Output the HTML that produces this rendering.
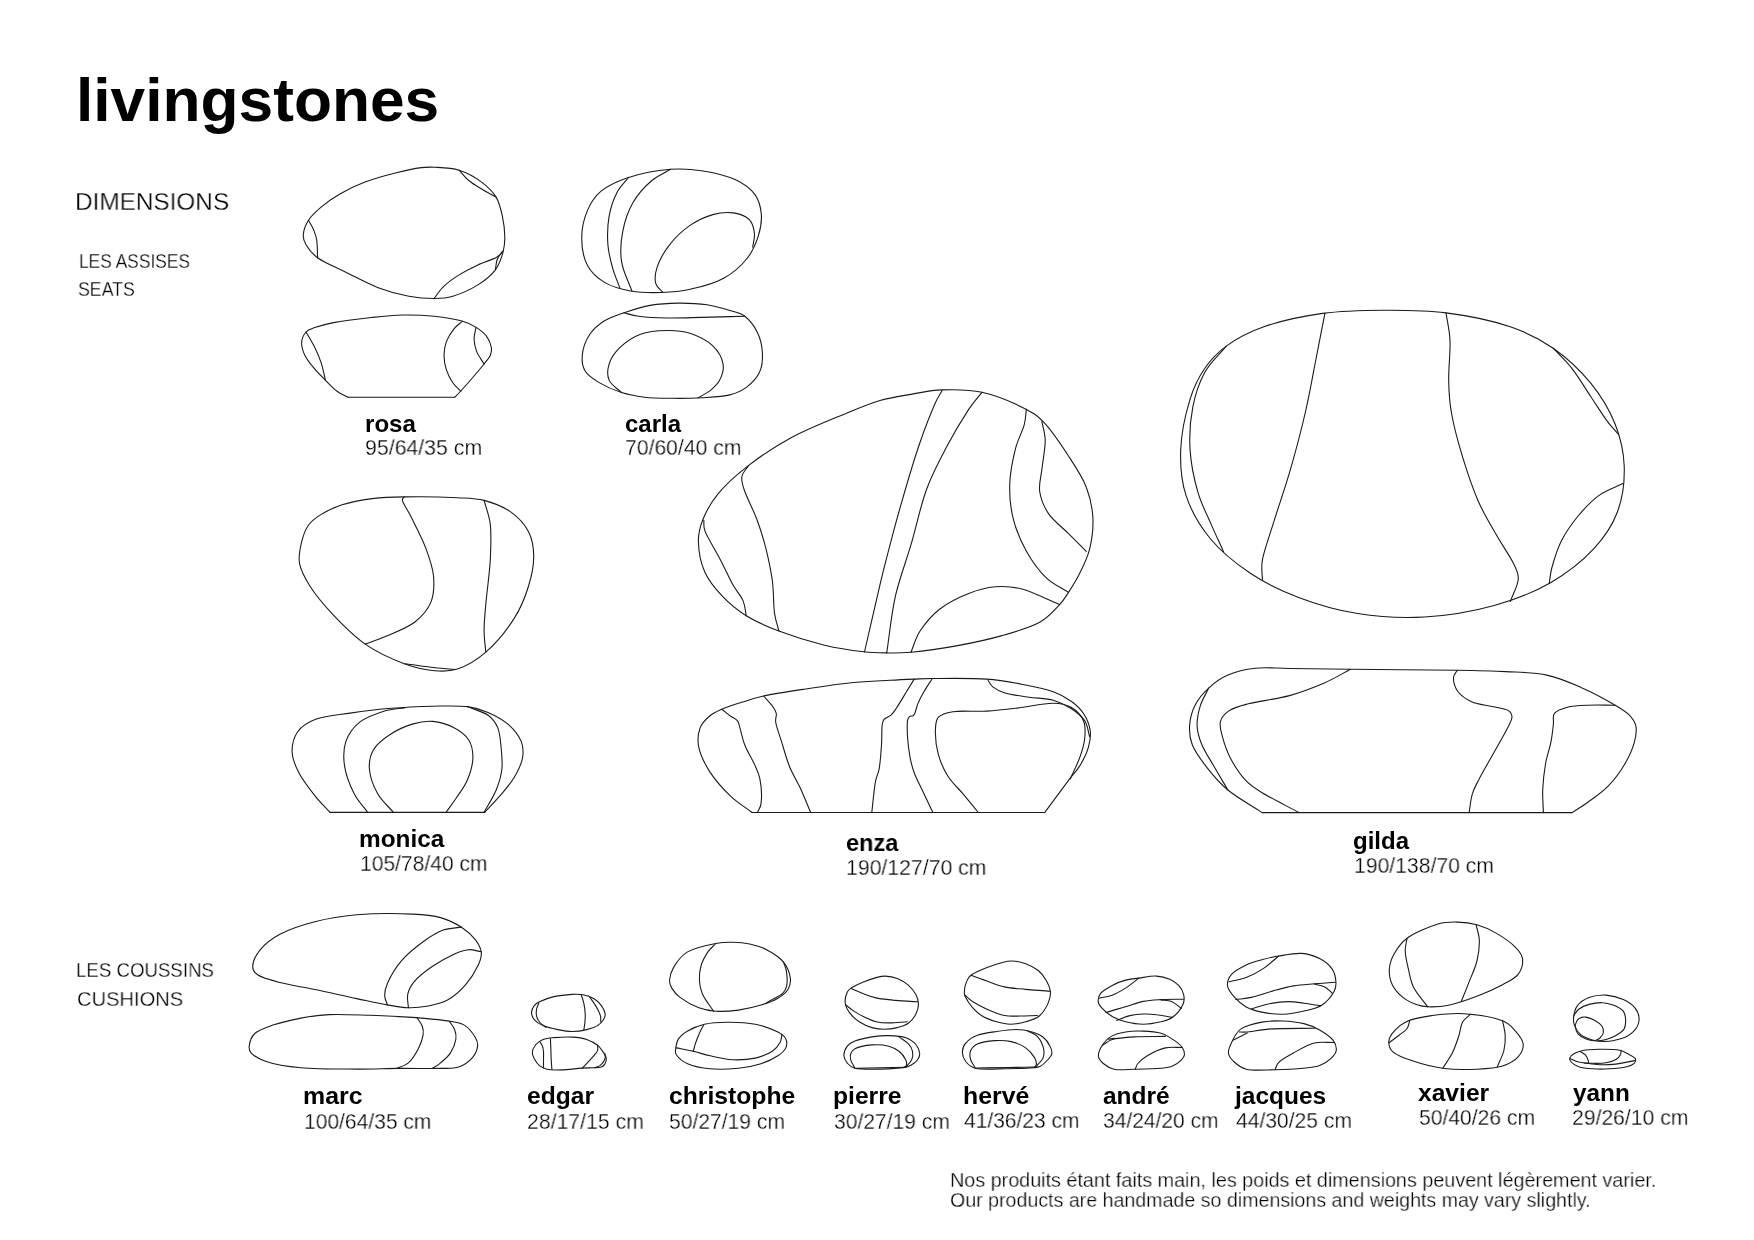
<!DOCTYPE html>
<html><head><meta charset="utf-8">
<style>
html,body{margin:0;padding:0;background:#fff;}
body{width:1754px;height:1240px;position:relative;overflow:hidden;font-family:"Liberation Sans",sans-serif;}
svg{position:absolute;left:0;top:0;}
.t{position:absolute;white-space:nowrap;line-height:1;transform-origin:0 0;will-change:transform;}
.title{font-weight:bold;color:#000;}
.nm{font-weight:bold;color:#000;font-size:24px;}
.lt{color:#222;}
.L{-webkit-text-stroke:0.3px #fff;}
</style></head><body>
<svg width="1754" height="1240" viewBox="0 0 1754 1240" fill="none" stroke="#1a1a1a" stroke-width="1.1" stroke-linejoin="round" stroke-linecap="round">
<path d="M303.3 234.7C303.6 230.5 305.7 224.8 308.5 220.3C311.5 215.6 316.1 211.4 321.1 207.2C326.4 202.6 332.8 198.1 339.9 194.0C347.3 189.7 355.8 185.6 365.0 182.1C374.5 178.4 386.7 175.1 396.3 172.7C405.4 170.4 414.7 168.5 421.4 167.6C427.2 166.9 429.5 166.9 435.2 167.3C441.7 167.6 451.4 167.7 459.1 170.2C466.9 172.6 475.4 177.4 481.6 182.1C487.6 186.5 492.6 191.4 496.1 197.1C499.5 202.7 500.9 209.3 502.3 215.9C503.8 222.7 504.8 231.0 504.8 237.3C504.9 243.0 504.4 247.0 503.0 252.3C501.4 257.9 499.4 264.5 495.4 269.9C491.2 275.5 484.8 280.6 477.9 284.9C470.7 289.4 460.4 294.0 452.8 296.2C445.9 298.2 441.0 298.4 434.0 298.5C426.5 298.5 417.9 297.9 408.9 296.2C399.2 294.4 387.9 291.4 377.5 287.4C367.0 283.4 356.2 277.3 346.2 272.4C336.4 267.5 324.8 262.9 317.9 258.0C312.0 253.7 308.4 248.9 306.0 244.8C303.9 241.2 303.0 238.6 303.3 234.7Z"/>
<path d="M308.5 220.3C310.2 223.5 312.2 226.5 313.6 229.7C314.9 233.0 316.0 235.5 316.7 239.8C317.5 244.6 317.3 251.9 317.6 258.0"/>
<path d="M459.1 170.2C462.4 173.7 465.3 177.7 469.1 180.8C472.9 184.0 477.2 186.3 481.6 189.0C486.2 191.7 491.2 194.4 496.1 197.1"/>
<path d="M434.0 298.5C437.3 294.4 439.9 290.0 444.0 286.2C448.2 282.1 453.5 278.4 459.1 274.9C464.8 271.3 471.6 267.8 477.9 264.9C484.1 261.9 492.5 259.8 496.7 257.3C500.0 255.3 500.7 253.3 502.7 251.3"/>
<path d="M502.7 251.3C500.9 253.9 498.5 256.2 497.3 259.2C496.1 262.2 496.1 265.9 495.4 269.2"/>
<path d="M348.1 397.2C344.5 395.3 341.0 394.2 337.4 391.5C333.5 388.7 329.4 384.2 325.5 380.3C321.5 376.3 317.0 372.0 313.6 367.7C310.2 363.6 306.8 359.4 304.8 355.2C302.9 351.1 301.4 346.5 301.6 342.6C301.9 338.8 303.8 334.5 306.0 332.0C308.2 329.5 310.8 329.0 314.8 327.6C319.6 325.9 325.4 324.1 333.6 322.6C343.4 320.7 359.5 318.8 371.3 317.5C382.4 316.3 392.2 315.2 402.6 315.0C413.1 314.8 423.9 315.2 434.0 316.3C443.9 317.3 455.5 319.2 462.8 321.3C469.1 323.1 472.6 325.0 476.6 327.6C480.5 330.1 484.2 333.0 486.6 336.4C489.1 339.7 490.9 344.4 491.4 347.6C491.9 350.5 491.5 352.6 490.4 355.2C489.2 358.0 487.8 359.4 484.1 364.0C479.1 370.1 465.2 386.2 460.3 391.5C457.0 395.2 456.5 395.3 454.7 397.2"/>
<path d="M348.1 397.2 L454.7 397.2"/>
<path d="M306.0 332.0C309.0 337.2 312.3 342.5 314.8 347.6C317.3 352.7 319.3 357.3 321.1 362.7C322.9 368.2 324.0 374.4 325.5 380.3"/>
<path d="M462.2 321.3C459.5 323.8 456.6 325.7 454.0 328.8C451.3 332.2 448.2 337.0 446.5 341.4C444.9 345.7 444.0 350.4 444.0 355.2C444.0 360.0 445.0 365.6 446.5 370.2C448.0 374.8 450.3 379.2 452.8 382.8C455.2 386.2 458.2 388.6 460.9 391.5"/>
<path d="M476.0 327.6C475.4 331.3 474.0 335.0 474.1 338.9C474.2 342.9 475.0 347.3 476.6 351.4C478.3 355.7 481.6 359.8 484.1 364.0"/>
<path d="M581.7 238.0C581.7 228.9 584.0 218.5 587.4 210.6C590.6 203.0 594.6 196.6 601.1 191.2C608.0 185.5 617.5 181.1 628.5 177.5C640.4 173.6 658.1 170.4 670.6 169.3C682.2 168.4 690.8 169.0 701.4 170.7C712.4 172.4 726.5 175.5 735.6 179.8C744.0 183.7 750.7 188.8 755.0 194.6C759.1 200.3 760.7 207.3 761.3 214.0C761.9 220.9 760.7 228.4 758.4 235.7C756.1 243.2 752.6 251.6 747.0 258.5C741.3 265.7 733.4 272.8 724.2 277.9C714.6 283.2 700.7 286.9 690.0 289.3C679.9 291.6 671.3 292.2 661.5 292.5C651.6 292.8 640.3 292.7 630.7 291.0C621.4 289.3 611.8 286.8 604.5 282.4C597.4 278.2 591.2 272.6 587.4 265.3C583.5 257.9 581.7 247.1 581.7 238.0Z"/>
<path d="M628.5 177.5C624.7 182.5 620.2 186.2 617.0 192.4C613.6 199.0 610.6 207.7 609.1 216.3C607.5 225.2 607.3 236.1 607.9 244.8C608.5 253.1 610.5 260.3 612.5 267.6C614.5 274.8 617.4 281.3 619.9 288.1"/>
<path d="M670.6 169.3C664.2 173.2 657.4 175.7 651.3 181.0C644.8 186.6 637.7 194.4 633.0 202.6C628.2 211.0 624.7 221.3 622.8 231.1C620.8 241.0 620.1 251.9 621.6 261.9C623.1 271.9 628.5 281.3 631.9 291.0"/>
<path d="M662.7 292.1C660.4 289.3 656.8 287.4 655.8 283.6C654.7 279.4 655.0 273.6 657.0 267.6C659.1 260.9 664.1 251.8 669.5 244.8C675.0 237.7 682.7 230.5 690.0 225.4C697.2 220.5 705.4 216.7 712.8 214.6C719.9 212.6 727.2 212.0 733.4 212.9C739.3 213.8 745.8 216.2 749.3 219.7C752.7 223.1 753.9 228.8 754.4 233.4C755.0 237.9 753.3 242.5 752.7 247.1"/>
<path d="M582.3 355.0C582.9 348.7 585.9 340.2 589.7 334.5C593.4 328.9 598.8 324.4 604.5 320.8C610.2 317.2 616.6 315.3 623.9 312.8C631.7 310.2 641.1 307.0 650.1 305.4C659.3 303.8 669.1 303.2 678.6 303.1C688.1 303.0 698.4 303.5 707.1 304.8C715.4 306.1 723.5 308.5 729.9 310.5C735.8 312.4 740.3 312.8 744.8 316.2C749.5 319.9 754.4 326.2 757.3 332.2C760.3 338.3 762.1 346.0 762.4 352.7C762.8 359.3 762.2 366.4 759.6 372.1C757.0 377.8 752.0 383.1 747.0 386.9C742.1 390.7 737.0 393.1 729.9 394.9C722.1 396.9 710.9 397.2 701.4 397.8C691.9 398.3 682.4 398.4 672.9 398.3C663.4 398.2 653.1 398.2 644.4 397.2C636.1 396.2 629.1 395.1 621.6 392.6C613.9 390.2 605.0 386.2 598.8 382.4C593.1 378.9 587.9 375.6 585.1 371.0C582.4 366.4 581.7 360.8 582.3 355.0Z"/>
<path d="M623.9 312.8C628.8 314.0 632.3 315.4 638.7 316.2C646.2 317.2 657.0 317.8 667.2 318.0C677.9 318.2 689.0 317.7 701.4 317.4C714.7 317.1 730.3 316.6 744.8 316.2"/>
<path d="M621.6 392.6C617.4 388.5 611.1 384.9 609.1 380.1C607.1 375.4 607.5 369.3 609.1 364.1C610.7 358.7 614.5 353.0 619.3 348.2C624.5 343.0 632.0 337.4 639.9 334.5C647.9 331.5 658.7 330.6 667.2 330.5C675.4 330.4 682.5 330.9 690.0 333.3C697.7 335.9 707.3 340.6 712.8 345.9C718.1 350.9 722.1 358.3 723.1 364.1C724.1 369.6 721.9 375.7 719.7 380.1C717.6 384.3 714.1 387.4 710.5 390.4C706.9 393.3 702.2 395.3 698.0 397.8"/>
<path d="M299.5 563.4C298.2 556.2 300.1 548.6 301.6 542.1C303.1 535.9 305.1 529.9 308.4 525.2C311.6 520.7 315.5 517.9 320.8 514.6C326.6 511.0 333.9 507.5 342.1 504.8C350.9 502.0 362.0 500.0 372.3 498.6C382.7 497.3 391.2 497.0 404.2 496.9C418.9 496.6 443.6 497.0 457.4 497.7C469.1 498.3 475.3 498.1 484.1 500.4C493.0 502.8 503.2 506.7 510.7 511.9C517.9 517.1 524.6 524.0 528.4 531.5C532.2 538.8 533.7 547.4 533.7 556.3C533.8 565.6 531.6 576.3 528.4 586.5C525.2 597.0 521.0 607.8 514.2 618.4C507.0 629.7 495.7 643.6 485.8 652.1C476.7 660.1 466.4 666.0 457.4 669.0C449.3 671.7 442.9 671.5 434.4 670.7C425.2 669.9 415.2 667.7 404.2 663.7C392.3 659.2 377.0 652.3 365.2 644.1C353.4 636.0 342.5 624.7 333.2 614.9C324.3 605.4 315.9 595.4 310.2 586.5C305.0 578.3 300.9 570.9 299.5 563.4Z"/>
<path d="M404.2 496.9C403.6 498.0 402.0 498.2 402.4 500.4C403.1 503.7 407.8 510.2 411.3 517.3C415.3 525.4 421.8 537.5 425.5 547.4C429.1 557.0 432.6 566.5 433.5 575.8C434.3 584.9 434.0 594.7 430.8 602.4C427.7 610.0 421.9 616.4 414.9 622.0C407.4 627.8 395.0 632.4 386.5 636.1C378.6 639.6 372.3 641.5 365.2 644.1"/>
<path d="M484.1 500.4C486.1 508.4 489.2 515.0 490.3 524.4C491.4 534.6 490.9 547.0 490.3 559.8C489.5 573.5 486.9 591.9 485.8 604.2C484.9 615.0 484.0 622.7 484.1 630.8C484.1 638.6 485.2 645.0 485.8 652.1"/>
<path d="M405.1 663.7C413.7 664.8 422.4 666.2 430.8 667.2C439.2 668.2 447.4 668.7 455.7 669.5"/>
<path d="M330.1 812.4C325.3 807.2 320.6 802.8 315.6 796.6C310.2 789.9 303.0 780.7 299.0 773.1C295.4 766.0 292.4 759.3 292.1 752.4C291.9 745.5 293.8 737.2 297.7 731.7C301.6 726.2 307.6 722.4 315.6 719.3C324.6 715.9 337.8 714.9 350.1 713.1C363.0 711.2 377.7 709.4 391.5 708.3C405.3 707.1 420.0 706.5 432.9 706.2C445.2 706.0 457.8 705.4 467.4 706.6C475.8 707.7 481.3 709.5 488.1 712.4C495.1 715.5 503.2 719.9 508.8 724.8C514.1 729.6 518.9 735.7 521.2 741.4C523.3 746.8 523.6 752.2 522.5 757.9C521.5 764.1 517.9 771.1 514.3 777.3C510.6 783.5 505.4 789.4 500.5 795.2C495.5 801.1 489.9 806.7 484.6 812.4"/>
<path d="M330.1 812.4 L484.6 812.4"/>
<path d="M367.7 812.4C363.2 806.2 358.0 801.2 354.2 793.8C350.2 786.0 345.9 775.1 344.6 766.2C343.3 757.7 343.4 748.8 345.9 741.4C348.5 734.1 353.5 727.1 359.7 722.1C366.2 716.9 376.8 713.5 384.6 711.0C391.9 708.8 398.4 708.7 405.3 707.6"/>
<path d="M467.4 706.6C474.3 709.5 482.9 711.5 488.1 715.2C492.8 718.6 495.5 722.4 497.7 727.6C500.1 733.2 500.5 741.4 501.2 748.3C501.9 755.2 502.6 762.1 501.9 769.0C501.1 775.9 499.2 782.6 496.3 789.7C493.3 797.1 488.1 804.9 483.9 812.4"/>
<path d="M393.5 812.4C388.3 806.2 381.7 801.0 377.7 793.8C373.6 786.5 370.0 776.6 369.4 769.0C368.9 761.9 370.2 755.4 373.5 749.7C377.0 743.8 383.7 738.7 390.1 734.5C396.6 730.2 404.9 726.3 412.2 724.1C419.2 722.0 426.0 720.8 432.9 721.4C439.8 721.9 447.5 724.4 453.6 727.6C459.5 730.7 465.5 734.9 468.7 740.0C471.9 745.0 473.0 751.5 472.9 757.9C472.7 764.8 470.2 773.3 467.4 780.0C464.6 786.6 460.0 792.5 456.3 798.0C452.8 803.2 449.4 807.6 446.0 812.4"/>
<path d="M846.4 413.3C831.2 419.6 808.5 428.4 792.0 437.3C776.0 445.8 761.0 455.9 748.4 465.6C736.5 474.8 725.7 484.4 718.0 493.9C710.8 502.6 706.0 511.7 702.7 520.0C699.7 527.6 698.2 533.5 698.4 541.8C698.6 550.8 700.8 563.1 704.9 572.3C708.9 581.3 715.5 589.0 722.3 596.2C729.2 603.5 737.0 610.1 746.3 615.8C755.8 621.8 766.4 626.3 778.9 631.0C792.3 636.1 810.2 641.7 824.6 645.2C838.4 648.5 853.1 650.5 863.8 651.7C873.2 652.8 878.9 652.8 886.7 652.9C894.6 653.0 900.6 653.2 911.0 652.2C923.4 651.1 942.4 648.4 957.6 645.6C972.7 642.8 988.1 639.6 1002.0 635.6C1015.4 631.8 1029.8 627.8 1039.7 622.3C1048.6 617.3 1054.7 609.8 1059.6 604.6C1063.9 600.0 1065.4 597.2 1068.5 592.4C1072.0 587.0 1076.2 580.5 1079.6 573.5C1083.2 566.2 1087.4 558.1 1089.6 549.1C1091.9 539.7 1093.4 528.4 1092.9 518.1C1092.4 507.7 1090.2 497.2 1086.2 487.0C1082.2 476.5 1075.4 466.5 1068.5 456.0C1061.4 445.1 1051.6 430.6 1044.1 422.7C1037.7 415.9 1035.1 414.0 1026.4 409.4C1015.8 403.9 996.3 395.5 982.0 392.3C968.3 389.2 953.9 389.5 942.1 389.9C931.2 390.2 923.4 392.1 913.3 393.9C902.7 395.7 891.1 397.3 880.0 400.5C868.8 403.8 859.9 407.7 846.4 413.3Z"/>
<path d="M703.8 520.0C704.2 523.6 703.0 525.7 704.9 530.9C707.4 537.7 715.4 550.0 720.1 559.2C724.8 568.2 729.2 578.2 733.2 585.3C736.7 591.6 740.8 595.4 743.0 600.6C745.1 605.6 745.2 610.7 746.3 615.8"/>
<path d="M748.4 465.6C746.3 469.2 742.6 472.5 741.9 476.5C741.2 480.5 742.1 483.5 744.1 489.5C746.5 497.1 753.5 510.1 757.1 520.0C760.7 529.7 763.3 538.3 765.9 548.3C768.4 558.6 770.9 570.1 772.4 581.0C773.8 591.8 773.3 605.0 774.6 613.6C775.6 621.1 777.5 625.2 778.9 631.0"/>
<path d="M942.1 390.5C939.9 394.6 938.4 396.1 935.4 402.7C931.5 411.5 925.2 427.3 919.9 442.7C914.1 459.4 907.4 482.2 902.2 500.3C897.1 517.6 892.7 534.6 888.9 549.1C885.4 562.5 883.6 569.4 880.0 584.6C875.8 602.4 869.7 629.5 864.5 652.0"/>
<path d="M982.0 392.3C977.6 398.0 974.0 401.5 968.7 409.4C962.5 418.8 953.5 433.9 946.5 447.1C939.4 460.5 932.4 473.5 926.6 489.2C920.5 505.8 916.3 526.8 911.0 544.7C905.9 562.2 899.6 577.9 895.5 595.7C891.4 613.9 889.6 633.8 886.7 652.9"/>
<path d="M1026.4 409.4C1025.6 414.6 1025.8 418.8 1024.2 424.9C1022.3 431.8 1017.6 439.9 1015.3 449.3C1012.7 459.6 1010.1 473.2 1009.7 484.8C1009.4 496.1 1010.3 507.1 1013.1 518.1C1015.8 529.3 1020.8 541.3 1026.4 551.3C1031.9 561.2 1039.1 571.0 1046.3 577.9C1053.2 584.5 1061.1 587.6 1068.5 592.4"/>
<path d="M1041.9 421.6C1043.0 427.9 1045.1 433.0 1045.2 440.4C1045.3 448.7 1042.8 460.5 1041.9 469.3C1041.0 477.4 1038.6 484.1 1039.7 491.5C1040.8 498.9 1043.9 506.7 1048.5 513.6C1053.4 520.8 1062.1 527.2 1068.5 533.6C1074.7 539.8 1080.3 545.4 1086.2 551.3"/>
<path d="M911.0 652.2C914.0 645.2 915.4 638.1 919.9 631.2C924.8 623.7 931.9 615.2 939.9 609.0C948.1 602.6 959.3 597.2 968.7 593.5C977.7 589.9 986.4 587.5 995.3 586.8C1004.2 586.1 1011.9 586.4 1021.9 589.0C1033.1 591.9 1047.1 599.4 1059.6 604.6"/>
<path d="M752.1 812.5C744.8 806.9 737.2 802.5 730.3 795.8C723.1 788.9 715.0 779.9 709.7 771.6C704.7 763.7 700.4 754.9 698.8 747.4C697.4 740.5 698.1 733.4 700.0 728.1C701.9 723.0 706.0 719.1 709.7 716.0C713.3 712.9 716.8 711.5 721.8 709.3C727.4 706.9 735.4 704.3 742.4 702.1C749.4 699.8 754.5 698.0 763.6 696.0C774.0 693.7 788.7 691.5 802.9 689.4C817.8 687.1 836.4 684.2 851.3 682.7C865.3 681.3 879.1 680.9 890.0 680.3C899.7 679.7 906.9 679.4 914.2 679.1C920.9 678.8 922.9 678.5 932.3 678.5C944.7 678.4 971.1 677.9 986.8 679.1C1000.9 680.1 1011.8 682.3 1023.1 684.5C1033.9 686.6 1045.0 688.7 1053.3 691.8C1060.8 694.5 1066.3 697.7 1071.5 701.5C1076.3 705.0 1080.4 708.8 1083.5 713.5C1086.7 718.4 1089.4 724.8 1090.2 730.5C1091.0 736.1 1090.0 741.7 1088.4 747.4C1086.7 753.4 1083.4 759.9 1079.9 765.6C1076.5 771.2 1073.0 774.4 1067.8 781.3C1061.7 789.4 1052.5 802.1 1044.8 812.5"/>
<path d="M752.1 812.5 L1044.8 812.5"/>
<path d="M721.8 709.3C724.6 711.5 727.6 714.0 730.3 716.0C732.8 717.8 735.9 718.7 737.5 720.8C739.1 722.8 738.9 724.7 740.0 728.1C741.2 732.2 742.5 739.1 744.8 745.0C747.2 751.2 751.9 758.5 754.5 764.4C756.9 769.7 758.8 772.9 759.9 778.9C761.2 785.5 761.8 797.3 761.1 803.1C760.6 807.7 758.7 809.4 757.5 812.5"/>
<path d="M763.6 696.0C766.6 699.4 770.5 703.2 772.6 706.3C774.5 709.0 775.7 710.9 776.3 713.5C776.8 716.2 775.1 718.2 775.7 722.0C776.3 726.6 778.9 733.2 781.1 740.2C783.5 747.9 786.3 758.6 789.6 766.8C792.8 774.7 797.0 781.0 800.5 788.5C804.0 796.2 807.3 804.5 810.7 812.5"/>
<path d="M914.2 679.1C911.4 683.7 908.7 688.1 905.7 693.0C902.7 698.0 898.6 705.0 896.0 708.7C894.0 711.7 893.2 713.0 891.2 714.8C889.1 716.6 885.4 717.7 883.9 719.6C882.5 721.4 882.5 722.4 882.1 725.6C881.6 729.9 882.0 738.0 881.5 745.0C881.0 752.4 880.2 762.9 879.1 769.2C878.1 774.5 876.6 775.4 875.5 781.3C874.1 788.7 873.0 802.1 871.8 812.5"/>
<path d="M932.3 678.5C929.5 682.9 926.3 687.5 923.9 691.8C921.5 695.9 919.4 700.1 917.8 703.9C916.4 707.4 915.7 711.6 914.8 713.5C914.1 715.0 913.8 715.2 913.0 715.7C912.1 716.3 910.3 715.8 909.4 716.6C908.4 717.4 907.9 718.4 907.5 720.8C907.1 724.1 907.2 730.7 907.5 736.5C907.9 742.7 908.8 750.9 910.0 757.1C911.1 762.9 912.2 767.3 914.2 772.8C916.3 778.6 919.6 784.5 922.7 791.0C925.8 797.7 929.5 805.3 932.9 812.5"/>
<path d="M978.3 812.5C973.1 806.1 967.7 799.5 962.6 793.4C957.6 787.5 952.1 782.8 948.1 776.5C944.0 770.0 940.5 762.3 938.4 754.7C936.3 747.0 935.2 737.0 935.4 730.5C935.5 724.9 935.6 720.3 938.4 717.2C941.3 714.0 946.1 712.8 952.9 711.7C961.2 710.4 976.0 711.8 986.8 711.1C997.3 710.5 1006.2 709.4 1017.0 708.1C1028.3 706.8 1043.9 703.1 1053.3 703.3C1061.3 703.4 1066.4 704.6 1071.5 707.5C1076.5 710.4 1081.3 715.7 1083.5 720.8C1085.7 725.8 1085.3 731.8 1084.8 737.7C1084.2 743.9 1082.3 750.4 1079.9 757.1C1077.5 764.1 1073.5 771.6 1070.2 778.9"/>
<path d="M988.0 680.3C989.6 682.5 990.3 684.9 992.8 686.9C995.7 689.2 999.5 691.3 1004.9 693.0C1011.2 694.9 1021.0 696.0 1029.1 697.2C1037.2 698.4 1046.1 698.2 1053.3 700.2C1060.1 702.2 1066.2 705.2 1071.5 708.7C1076.6 712.1 1081.7 716.1 1084.8 720.8C1087.7 725.4 1088.0 731.3 1089.6 736.5"/>
<path d="M1180.7 450.1C1181.3 433.8 1185.7 413.2 1190.1 399.1C1194.0 386.5 1198.7 377.2 1204.8 368.3C1210.8 359.6 1217.0 352.8 1226.3 346.1C1236.3 338.8 1248.7 332.1 1263.8 326.8C1280.3 321.0 1302.7 316.2 1322.7 313.4C1342.9 310.6 1363.8 310.3 1384.4 310.2C1404.9 310.1 1425.2 310.1 1446.0 312.9C1467.2 315.6 1492.0 320.5 1510.3 326.8C1527.2 332.6 1539.9 339.0 1553.2 348.2C1566.7 357.7 1580.4 370.4 1590.7 383.1C1600.8 395.5 1609.2 409.3 1614.8 423.3C1620.3 437.0 1623.7 451.5 1624.2 466.1C1624.7 481.0 1622.7 497.8 1617.5 511.7C1612.4 525.5 1604.1 537.6 1593.4 549.2C1582.1 561.4 1566.7 573.4 1550.5 582.7C1533.8 592.3 1514.8 599.8 1494.2 605.5C1472.9 611.4 1447.5 615.7 1424.6 617.0C1401.9 618.3 1378.8 616.9 1357.6 613.5C1336.9 610.2 1316.7 604.3 1298.6 597.4C1281.1 590.8 1265.1 583.2 1250.4 573.3C1235.7 563.5 1221.0 551.6 1210.2 538.5C1199.6 525.6 1191.0 510.5 1186.1 495.6C1181.3 481.0 1180.1 465.9 1180.7 450.1Z"/>
<path d="M1226.3 346.1C1219.1 354.8 1210.4 362.3 1204.8 372.3C1199.2 382.6 1195.2 394.5 1192.8 407.2C1190.2 420.3 1189.2 435.8 1190.1 450.1C1191.0 464.4 1194.4 480.2 1198.1 492.9C1201.7 505.0 1207.2 515.1 1211.5 525.1C1215.7 534.7 1219.6 542.9 1223.6 551.9"/>
<path d="M1324.9 313.4C1321.9 328.6 1319.2 342.8 1316.0 359.0C1312.7 375.8 1309.5 394.4 1305.3 412.5C1301.1 431.0 1295.8 450.8 1290.6 468.8C1285.5 486.5 1279.3 504.2 1274.5 519.7C1270.0 534.4 1264.3 549.4 1262.4 559.9C1260.9 568.6 1262.4 573.3 1262.4 580.0"/>
<path d="M1446.0 312.9C1447.3 322.0 1449.5 329.6 1450.0 340.2C1450.6 351.8 1448.4 368.1 1448.7 380.4C1448.9 392.1 1449.3 400.6 1451.4 412.5C1453.6 425.4 1457.7 440.8 1462.1 455.4C1466.6 470.3 1472.2 487.3 1478.2 501.0C1483.8 514.0 1490.9 525.3 1496.9 535.8C1502.5 545.7 1509.4 555.1 1513.0 562.6C1516.1 569.0 1518.6 572.6 1518.3 578.7C1518.1 585.4 1513.0 593.9 1510.3 601.5"/>
<path d="M1553.2 348.2C1559.4 354.9 1565.8 360.6 1571.9 368.3C1578.4 376.5 1584.8 387.6 1590.7 396.5C1596.4 405.0 1602.0 414.1 1606.8 420.6C1611.0 426.3 1614.3 429.5 1618.0 434.0"/>
<path d="M1622.9 483.6C1614.8 487.6 1606.2 490.2 1598.7 495.6C1591.0 501.2 1583.6 509.4 1577.3 517.0C1571.1 524.6 1565.5 532.7 1561.2 541.2C1557.0 549.6 1553.8 560.6 1551.8 568.0C1550.1 574.3 1550.1 578.3 1549.2 583.5"/>
<path d="M1262.1 812.6C1250.7 805.0 1237.2 797.7 1227.9 790.0C1219.3 782.9 1213.3 775.7 1207.4 768.1C1201.5 760.6 1195.2 752.2 1192.3 744.8C1189.6 738.1 1189.2 732.2 1189.6 725.7C1190.0 719.0 1191.9 711.4 1195.1 705.2C1198.2 698.9 1203.3 693.0 1208.7 688.1C1214.2 683.0 1220.4 678.3 1227.9 675.1C1235.8 671.6 1245.3 669.3 1255.3 668.2C1265.7 667.0 1275.1 668.3 1289.5 668.5C1306.1 668.7 1325.8 669.0 1351.0 669.3C1380.0 669.6 1429.7 669.8 1456.5 670.3C1478.7 670.6 1490.4 670.8 1505.8 671.6C1520.5 672.4 1534.1 672.3 1546.8 675.1C1559.1 677.7 1569.7 682.4 1581.0 687.4C1592.5 692.4 1607.0 700.3 1615.2 705.2C1621.9 709.1 1625.5 711.2 1628.9 714.7C1632.2 718.1 1634.8 721.3 1635.8 725.7C1636.8 730.3 1636.0 736.1 1634.4 742.1C1632.6 748.7 1629.0 756.8 1624.8 764.0C1620.5 771.4 1614.6 779.5 1608.4 785.9C1602.3 792.2 1594.1 797.7 1587.9 802.3C1582.1 806.5 1577.4 809.1 1572.1 812.6"/>
<path d="M1262.1 812.6 L1572.1 812.6"/>
<path d="M1208.7 688.1C1206.0 693.8 1202.5 699.0 1200.5 705.2C1198.5 711.5 1196.9 719.0 1197.1 725.7C1197.3 732.2 1199.2 738.2 1201.9 744.8C1204.8 751.9 1209.9 759.3 1214.2 766.7C1218.6 774.3 1223.3 782.2 1227.9 790.0"/>
<path d="M1350.4 669.3C1341.5 674.0 1333.5 679.0 1323.7 683.3C1313.3 687.8 1301.8 692.2 1289.5 695.6C1276.7 699.1 1258.8 701.1 1248.4 703.8C1239.7 706.1 1234.0 707.4 1229.3 710.6C1224.9 713.5 1221.5 717.3 1220.4 721.6C1219.2 725.9 1220.9 730.9 1222.4 736.6C1224.1 743.0 1226.8 751.3 1230.6 758.5C1234.5 765.9 1240.2 774.6 1245.7 780.4C1250.8 785.8 1254.4 788.0 1262.1 792.7C1271.3 798.4 1286.7 806.0 1299.0 812.6"/>
<path d="M1457.2 670.3C1456.0 672.8 1453.6 674.6 1453.5 677.8C1453.4 681.4 1455.0 687.5 1457.9 691.5C1460.9 695.6 1466.1 699.2 1471.6 701.7C1477.4 704.4 1485.8 705.0 1492.1 706.5C1498.1 708.0 1505.3 708.5 1508.5 710.6C1511.2 712.4 1512.1 714.5 1511.9 717.5C1511.7 721.0 1508.7 725.5 1505.8 731.2C1502.4 737.8 1496.7 747.6 1492.1 755.8C1487.5 764.0 1481.8 773.7 1478.4 780.4C1475.5 786.1 1473.8 788.9 1472.3 794.1C1470.6 799.6 1470.2 806.4 1469.1 812.6"/>
<path d="M1543.4 812.6C1543.2 805.0 1542.4 797.9 1542.7 790.0C1543.1 781.8 1544.1 772.1 1545.5 764.0C1546.8 756.2 1549.6 748.9 1550.9 742.1C1552.2 735.7 1552.8 729.3 1553.4 724.3C1553.9 719.9 1552.2 716.2 1554.4 713.4C1556.6 710.4 1562.1 708.6 1567.4 707.2C1573.1 705.7 1580.2 705.5 1587.9 705.2C1596.1 704.8 1606.1 705.2 1615.2 705.2"/>
<path d="M252.7 966.5C252.8 962.1 256.1 954.9 260.4 949.7C264.9 944.1 271.5 938.8 279.9 934.3C289.2 929.4 302.3 925.0 314.8 921.8C327.8 918.4 341.1 916.1 356.7 914.8C373.5 913.4 398.1 913.4 412.6 914.1C424.8 914.6 432.3 915.2 440.6 917.6C448.5 919.8 455.6 923.5 461.5 927.3C467.1 931.0 472.1 935.6 475.5 939.9C478.6 944.0 480.9 948.3 481.3 952.5C481.8 956.6 480.5 960.2 478.3 965.1C475.7 970.7 470.8 978.8 465.7 984.6C460.6 990.5 454.1 996.4 447.5 1000.0C441.1 1003.5 433.2 1005.0 426.6 1006.3C420.2 1007.5 414.8 1007.9 408.4 1007.7C401.8 1007.5 395.6 1006.3 387.5 1004.9C378.6 1003.3 368.3 1001.0 356.7 998.6C344.3 996.0 327.9 992.2 314.8 989.5C302.4 986.9 289.8 985.1 279.9 982.5C271.0 980.2 262.0 977.9 257.6 974.8C254.0 972.4 252.6 970.2 252.7 966.5Z"/>
<path d="M461.5 927.1C455.5 928.1 449.5 927.9 443.3 930.1C436.9 932.5 430.5 936.5 423.8 941.3C416.6 946.5 407.5 953.8 401.4 960.9C395.5 967.8 390.2 977.1 387.5 983.2C385.2 988.3 384.6 992.1 384.7 995.8C384.7 999.2 386.5 1001.8 387.5 1004.9"/>
<path d="M481.3 951.8C477.1 951.1 472.9 949.4 468.5 949.7C464.0 950.0 460.0 951.4 454.5 953.9C448.2 956.7 439.0 961.8 432.2 966.5C425.5 971.1 418.1 976.9 414.0 981.8C410.4 986.2 408.6 990.1 407.7 994.4C406.8 998.7 408.2 1003.2 408.4 1007.7"/>
<path d="M249.2 1046.1C249.6 1042.7 251.2 1036.9 254.8 1033.5C258.7 1029.8 265.7 1027.6 272.9 1025.1C280.8 1022.4 291.5 1019.9 300.9 1018.1C310.2 1016.4 317.9 1015.2 328.8 1014.6C340.8 1014.1 356.7 1014.9 370.7 1015.3C384.7 1015.8 399.6 1016.5 412.6 1017.4C425.1 1018.4 438.6 1019.5 447.5 1020.9C455.0 1022.1 459.6 1022.3 464.3 1025.1C468.9 1027.9 473.3 1034.0 475.5 1037.7C477.3 1040.8 477.9 1043.0 477.6 1046.1C477.2 1049.4 475.6 1053.9 472.7 1057.3C469.5 1060.9 464.0 1065.2 458.7 1067.0C453.3 1068.9 449.0 1068.2 440.6 1068.4C430.2 1068.7 412.6 1068.3 398.6 1068.4C384.7 1068.5 372.3 1069.2 356.7 1069.1C340.0 1069.0 316.5 1069.2 300.9 1067.7C286.9 1066.4 274.4 1064.2 266.0 1061.4C258.9 1059.1 254.0 1055.9 251.3 1053.1C249.1 1050.8 248.8 1049.0 249.2 1046.1Z"/>
<path d="M416.8 1017.4C418.7 1020.5 421.4 1023.5 422.4 1026.5C423.4 1029.3 423.6 1031.5 423.1 1034.9C422.5 1038.8 420.6 1044.3 418.2 1048.9C415.7 1053.6 412.2 1059.6 408.4 1062.8C404.9 1065.9 400.5 1066.6 396.6 1068.4"/>
<path d="M449.6 1021.6C451.3 1024.2 453.5 1026.4 454.5 1029.3C455.6 1032.2 456.5 1035.4 455.9 1039.1C455.3 1043.2 452.9 1049.1 450.3 1053.1C447.8 1057.0 443.7 1060.2 440.6 1062.8C437.7 1065.3 435.0 1066.6 432.2 1068.4"/>
<path d="M531.5 1012.6C531.5 1010.2 533.0 1007.2 534.4 1005.3C535.8 1003.6 536.9 1003.0 539.5 1001.7C542.8 1000.1 548.7 997.8 554.0 996.6C559.6 995.4 567.2 994.7 572.2 994.4C576.6 994.2 579.5 994.1 583.1 994.8C586.7 995.5 590.9 997.0 594.0 998.8C596.9 1000.5 599.3 1002.8 601.2 1005.3C603.1 1007.9 604.9 1011.5 605.2 1014.0C605.4 1016.3 604.6 1018.0 603.4 1019.8C602.1 1021.9 600.2 1024.1 597.6 1025.6C594.7 1027.4 590.8 1028.7 586.7 1029.6C582.4 1030.7 577.0 1031.5 572.2 1031.5C567.3 1031.5 562.5 1030.6 557.7 1029.6C552.8 1028.7 547.1 1027.4 543.1 1025.6C539.5 1024.1 536.4 1022.1 534.4 1019.8C532.6 1017.7 531.5 1015.0 531.5 1012.6Z"/>
<path d="M538.8 1003.1C538.1 1005.1 537.0 1006.8 536.6 1009.0C536.2 1011.2 536.1 1014.0 536.6 1016.2C537.1 1018.4 538.0 1020.2 539.5 1022.0C541.1 1024.0 543.9 1025.6 546.0 1027.5"/>
<path d="M581.2 994.8C582.1 997.6 583.1 1000.1 583.8 1003.1C584.5 1006.4 585.1 1010.7 585.2 1014.0C585.4 1017.2 585.1 1020.0 584.9 1022.7C584.6 1025.3 584.2 1027.6 583.8 1030.0"/>
<path d="M589.6 997.0C591.0 999.0 592.5 1000.9 594.0 1003.1C595.4 1005.4 597.2 1008.2 598.3 1010.4C599.3 1012.5 600.1 1014.3 600.5 1016.2C600.9 1018.1 600.7 1020.1 600.8 1022.0"/>
<path d="M532.3 1052.5C532.4 1050.0 534.1 1046.7 535.9 1044.5C537.7 1042.3 540.2 1040.6 543.1 1039.4C546.2 1038.2 549.6 1038.0 554.0 1037.6C559.1 1037.2 566.6 1036.8 572.2 1037.1C577.5 1037.4 582.4 1038.0 586.7 1039.4C590.8 1040.8 594.8 1043.0 597.6 1045.2C600.2 1047.4 601.9 1050.2 603.4 1052.5C604.7 1054.6 606.1 1056.4 606.3 1058.3C606.5 1060.2 605.7 1062.6 604.8 1064.1C604.0 1065.5 602.9 1066.4 601.2 1067.0C599.4 1067.7 596.9 1067.6 594.0 1067.7C590.6 1067.9 586.6 1067.8 581.6 1068.1C576.0 1068.5 567.3 1069.8 561.3 1069.9C555.8 1070.1 550.5 1070.1 546.8 1069.2C543.5 1068.4 541.6 1067.3 539.5 1065.6C537.5 1063.9 535.7 1061.3 534.4 1059.0C533.3 1056.9 532.1 1054.8 532.3 1052.5Z"/>
<path d="M540.2 1042.3C541.0 1043.5 541.9 1044.5 542.4 1046.0C543.0 1047.6 543.3 1049.5 543.5 1051.8C543.7 1054.3 543.5 1057.8 543.5 1060.5C543.5 1063.1 543.5 1065.3 543.5 1067.7"/>
<path d="M550.4 1038.7C550.5 1041.4 550.6 1043.7 550.8 1046.7C550.9 1049.9 551.0 1053.9 551.1 1057.6C551.3 1061.4 551.6 1065.3 551.9 1069.2"/>
<path d="M597.6 1045.2C597.6 1046.9 598.1 1048.8 597.6 1050.3C597.1 1051.9 596.0 1053.0 594.7 1054.7C593.2 1056.6 590.9 1059.0 588.9 1061.2C586.8 1063.5 584.5 1065.8 582.3 1068.1"/>
<path d="M604.8 1053.2C605.0 1054.7 605.4 1056.1 605.2 1057.6C605.0 1059.0 604.3 1060.6 603.4 1061.9C602.5 1063.3 601.2 1064.6 599.8 1065.6C598.3 1066.5 596.4 1067.0 594.7 1067.7"/>
<path d="M669.5 980.2C669.8 976.4 671.3 971.1 674.0 966.6C677.0 961.7 681.2 955.7 687.6 951.9C694.7 947.8 708.0 945.0 715.8 943.5C722.6 942.1 727.1 942.2 732.7 942.3C738.4 942.4 744.1 942.8 749.7 944.0C755.4 945.3 761.1 946.8 766.6 949.7C772.4 952.7 779.6 957.2 783.5 962.1C787.3 966.7 789.7 973.2 790.3 977.9C790.9 982.1 790.0 985.9 788.1 989.2C786.0 992.7 782.2 995.7 777.9 998.2C773.3 1001.0 767.3 1003.1 761.0 1005.0C754.2 1007.1 745.9 1009.0 738.4 1010.1C730.9 1011.1 722.6 1011.7 715.8 1011.2C709.5 1010.8 704.7 1010.0 698.9 1007.8C692.7 1005.5 684.3 1000.6 679.7 997.1C675.7 994.1 673.5 991.0 671.8 988.1C670.2 985.4 669.3 983.4 669.5 980.2Z"/>
<path d="M715.8 943.5C713.2 946.3 710.3 948.4 707.9 951.9C705.4 955.7 702.5 960.8 701.1 965.5C699.7 970.2 699.2 975.4 699.4 980.2C699.6 984.8 700.2 988.8 702.3 993.7C704.6 999.1 709.8 1005.4 713.5 1011.2"/>
<path d="M783.5 962.1C784.5 965.1 785.8 967.5 786.4 971.1C787.0 975.2 787.5 981.9 786.7 985.8C786.0 989.2 784.7 991.5 782.4 993.7C780.0 996.1 775.0 997.8 772.3 999.4C769.9 1000.7 768.5 1001.6 766.6 1002.7"/>
<path d="M675.7 1049.0C676.0 1046.3 676.6 1041.8 678.5 1038.9C680.5 1035.8 683.6 1033.3 687.6 1031.0C692.0 1028.4 698.1 1025.7 704.5 1024.2C711.2 1022.6 718.9 1022.2 727.1 1022.2C735.8 1022.1 746.7 1022.5 755.3 1024.2C763.6 1025.9 772.7 1029.4 777.9 1032.1C782.1 1034.3 784.5 1036.2 785.8 1038.9C787.1 1041.5 787.0 1045.1 785.8 1047.9C784.5 1050.8 781.6 1053.3 777.9 1055.8C773.7 1058.6 767.3 1061.7 761.0 1063.7C754.3 1065.9 746.6 1067.4 738.4 1068.2C729.7 1069.1 718.8 1069.6 710.2 1068.8C701.9 1068.0 693.4 1066.3 687.6 1063.7C682.4 1061.4 678.1 1057.3 676.3 1054.7C674.9 1052.6 675.5 1051.4 675.7 1049.0Z"/>
<path d="M703.4 1025.3C701.9 1028.3 700.2 1031.3 698.9 1034.4C697.6 1037.3 696.4 1040.5 695.5 1043.4C694.6 1046.1 694.0 1048.7 693.2 1051.3"/>
<path d="M676.3 1047.9C681.9 1049.0 687.6 1050.0 693.2 1051.3C698.9 1052.6 703.8 1054.4 710.2 1055.8C716.9 1057.3 725.2 1059.4 732.7 1059.8C740.3 1060.1 748.6 1059.6 755.3 1058.1C761.7 1056.6 768.0 1054.1 772.3 1051.3C776.1 1048.7 778.6 1045.2 780.2 1042.3C781.6 1039.6 781.3 1037.0 781.9 1034.4"/>
<path d="M845.2 1003.0C844.8 999.5 846.1 994.6 847.3 992.0C848.4 989.8 849.3 989.3 851.5 987.8C854.3 985.9 859.3 983.5 863.4 981.9C867.5 980.2 872.3 978.6 876.1 977.6C879.6 976.7 882.0 976.0 885.4 976.1C889.0 976.2 893.5 977.0 897.3 978.5C901.1 980.0 905.2 982.5 908.3 985.2C911.3 987.9 914.2 991.4 915.9 994.6C917.5 997.6 918.4 1000.7 918.4 1003.9C918.5 1007.1 917.5 1010.8 915.9 1014.0C914.2 1017.3 911.4 1021.1 908.3 1023.3C905.2 1025.6 901.2 1026.6 897.3 1027.6C893.3 1028.6 888.8 1029.3 884.6 1029.3C880.3 1029.3 876.1 1028.8 871.9 1027.6C867.6 1026.3 862.9 1024.1 859.2 1021.7C855.6 1019.3 852.2 1016.3 849.9 1013.2C847.6 1010.1 845.6 1006.6 845.2 1003.0Z"/>
<path d="M851.1 988.6C855.2 990.3 859.2 992.2 863.4 993.7C867.6 995.3 871.3 996.9 876.1 997.9C881.2 999.1 886.5 999.4 893.0 1000.1C900.2 1000.7 909.4 1001.2 917.6 1001.8"/>
<path d="M845.5 1004.7C848.0 1006.7 850.3 1008.7 853.2 1010.6C856.3 1012.7 859.7 1014.8 863.4 1016.6C867.3 1018.4 871.8 1020.6 876.1 1021.7C880.3 1022.7 883.9 1022.9 888.8 1022.9C894.2 1023.0 901.2 1022.1 907.4 1021.7"/>
<path d="M843.9 1055.5C843.9 1052.7 845.4 1048.6 847.3 1046.2C849.1 1043.8 851.4 1042.6 854.9 1041.1C859.1 1039.4 866.2 1037.8 871.9 1036.9C877.5 1036.0 883.2 1035.5 888.8 1035.6C894.5 1035.8 901.1 1036.1 905.7 1037.7C910.0 1039.2 913.6 1041.7 915.9 1044.5C918.1 1047.2 919.5 1051.2 919.7 1053.8C919.9 1056.2 918.9 1058.0 917.6 1059.8C916.3 1061.7 913.8 1063.6 911.7 1064.8C909.6 1066.1 908.8 1066.7 904.9 1067.4C899.7 1068.3 888.6 1068.9 880.3 1069.1C872.0 1069.2 860.5 1069.6 854.9 1068.2C850.6 1067.2 849.2 1065.3 847.3 1063.1C845.5 1061.0 844.0 1058.3 843.9 1055.5Z"/>
<path d="M899.0 1036.9C902.1 1039.2 906.0 1041.2 908.3 1043.7C910.4 1046.0 912.0 1048.6 912.5 1051.3C913.1 1054.0 912.8 1057.1 911.7 1059.8C910.5 1062.5 907.7 1064.8 905.7 1067.4"/>
<path d="M854.9 1068.2C853.5 1065.4 851.4 1062.3 850.7 1059.8C850.1 1057.5 850.0 1055.6 850.7 1053.8C851.4 1052.0 852.2 1050.1 854.9 1048.8C858.4 1047.0 866.2 1045.4 871.9 1044.9C877.5 1044.5 884.2 1045.0 888.8 1046.2C893.0 1047.3 896.1 1049.0 899.0 1051.3C901.8 1053.5 904.5 1057.4 905.7 1059.8C906.7 1061.7 906.9 1063.5 906.6 1064.8C906.3 1066.0 904.9 1066.5 904.0 1067.4"/>
<path d="M855.8 1068.4C864.0 1068.2 872.2 1068.0 880.3 1067.8C888.5 1067.6 896.7 1067.4 904.9 1067.2"/>
<path d="M964.3 992.7C964.3 989.9 965.4 984.2 966.7 981.1C967.9 978.4 968.7 976.9 971.5 974.8C975.0 972.4 982.0 969.6 987.0 967.6C992.0 965.6 997.2 963.8 1001.5 962.7C1005.5 961.7 1008.3 960.9 1012.2 961.0C1016.3 961.1 1021.4 962.1 1025.7 963.7C1030.1 965.3 1034.9 967.7 1038.3 970.5C1041.6 973.2 1044.0 976.6 1046.1 980.2C1048.1 983.7 1050.1 987.9 1050.4 991.8C1050.7 995.6 1049.7 999.5 1048.0 1003.4C1046.2 1007.5 1043.0 1012.9 1039.3 1016.0C1035.6 1019.0 1030.5 1020.4 1025.7 1021.8C1020.9 1023.2 1015.2 1024.2 1010.3 1024.2C1005.5 1024.2 1001.3 1023.1 996.7 1021.8C992.0 1020.4 986.4 1018.6 982.2 1016.0C978.1 1013.4 974.3 1009.5 971.5 1006.3C969.0 1003.4 966.9 1000.0 965.7 997.6C964.7 995.6 964.3 995.0 964.3 992.7Z"/>
<path d="M971.1 975.3C976.4 977.3 981.5 979.2 987.0 981.1C992.6 983.1 998.1 985.6 1004.5 986.9C1011.0 988.4 1018.2 988.6 1025.7 989.4C1033.5 990.1 1042.2 990.6 1050.4 991.3"/>
<path d="M964.6 994.7C967.2 996.9 969.1 999.2 972.5 1001.5C976.4 1004.0 981.8 1006.9 987.0 1009.2C992.4 1011.6 998.7 1014.4 1004.5 1015.5C1010.0 1016.6 1015.4 1016.0 1020.9 1016.0C1026.4 1016.0 1031.9 1015.6 1037.4 1015.5"/>
<path d="M962.4 1051.8C962.4 1048.7 963.5 1045.7 965.7 1043.1C968.2 1040.2 972.5 1037.2 977.4 1035.3C982.6 1033.2 990.2 1032.4 996.7 1031.5C1003.1 1030.5 1010.3 1029.5 1016.1 1029.5C1021.5 1029.6 1026.0 1030.1 1030.6 1031.5C1035.1 1032.7 1039.9 1034.7 1043.2 1037.3C1046.2 1039.6 1048.5 1043.1 1049.9 1046.0C1051.3 1048.6 1052.2 1051.4 1051.9 1053.7C1051.5 1055.9 1049.8 1057.5 1048.0 1059.5C1046.0 1061.7 1042.8 1064.9 1040.3 1066.3C1038.0 1067.5 1037.5 1067.4 1033.5 1067.7C1027.9 1068.3 1015.9 1068.6 1006.4 1068.7C996.6 1068.8 982.3 1069.9 975.4 1068.2C970.0 1066.9 967.9 1064.3 965.7 1061.5C963.6 1058.7 962.3 1054.9 962.4 1051.8Z"/>
<path d="M1027.7 1031.0C1030.9 1032.7 1034.8 1033.7 1037.4 1036.3C1040.0 1039.0 1042.2 1043.3 1043.2 1046.9C1044.1 1050.4 1044.4 1054.2 1043.2 1057.6C1041.9 1061.0 1038.0 1064.0 1035.4 1067.3"/>
<path d="M975.4 1068.2C973.8 1065.3 971.4 1062.5 970.6 1059.5C969.8 1056.7 969.5 1053.4 970.6 1050.8C971.7 1048.2 973.8 1045.7 977.4 1044.0C981.5 1042.1 989.1 1041.0 994.8 1040.6C1000.4 1040.3 1006.0 1040.4 1011.2 1041.6C1016.4 1042.8 1021.8 1045.1 1025.7 1047.9C1029.5 1050.5 1032.7 1054.7 1034.5 1057.6C1035.9 1060.1 1036.5 1062.7 1036.4 1064.4C1036.3 1065.7 1035.1 1066.3 1034.5 1067.3"/>
<path d="M976.4 1068.0C986.4 1067.9 996.6 1067.7 1006.4 1067.5C1016.0 1067.4 1025.1 1067.2 1034.5 1067.1"/>
<path d="M1098.2 1001.4C1098.0 999.0 1098.6 995.9 1100.6 993.4C1102.9 990.5 1108.1 987.6 1112.2 985.4C1116.3 983.2 1121.0 981.3 1125.5 980.1C1129.9 978.9 1133.8 978.8 1138.8 978.1C1144.1 977.4 1151.2 975.8 1156.5 976.1C1161.5 976.3 1166.1 977.6 1169.8 979.2C1173.4 980.7 1176.4 982.9 1178.7 985.4C1181.0 987.9 1182.9 991.2 1183.6 994.3C1184.3 997.4 1184.7 1000.5 1183.1 1004.0C1181.4 1008.1 1176.4 1014.4 1172.5 1017.3C1168.9 1020.1 1165.5 1020.6 1161.0 1021.8C1155.9 1023.0 1149.1 1024.3 1143.2 1024.3C1137.3 1024.3 1130.8 1023.1 1125.5 1021.8C1120.5 1020.5 1116.2 1018.8 1112.2 1016.5C1108.2 1014.1 1103.9 1010.3 1101.5 1007.6C1099.5 1005.3 1098.3 1003.7 1098.2 1001.4Z"/>
<path d="M1098.9 998.3C1103.3 997.2 1107.8 996.8 1112.2 995.2C1116.7 993.5 1121.1 990.9 1125.5 988.1C1130.0 985.2 1134.4 981.4 1138.8 978.1"/>
<path d="M1106.0 1012.5C1112.5 1010.5 1119.2 1008.6 1125.5 1006.7C1131.6 1004.9 1137.3 1002.6 1143.2 1001.4C1149.1 1000.2 1154.5 1000.0 1161.0 999.6C1167.9 999.2 1176.0 999.3 1183.6 999.2"/>
<path d="M1116.6 1020.4C1121.0 1018.8 1125.5 1016.6 1129.9 1015.6C1134.3 1014.5 1138.8 1014.1 1143.2 1014.0C1147.7 1013.8 1151.8 1014.1 1156.5 1014.7C1161.5 1015.2 1167.2 1016.5 1172.5 1017.3"/>
<path d="M1161.0 999.9C1164.5 1000.4 1168.3 1000.0 1171.6 1001.4C1175.1 1002.8 1178.1 1006.1 1181.4 1008.5"/>
<path d="M1098.4 1056.4C1098.1 1053.5 1099.7 1049.8 1101.5 1046.6C1103.5 1043.3 1106.5 1039.3 1110.4 1036.9C1114.4 1034.3 1120.1 1032.9 1125.5 1032.0C1131.0 1031.0 1137.3 1030.9 1143.2 1031.1C1149.1 1031.3 1155.7 1031.7 1161.0 1033.3C1166.0 1034.9 1170.6 1037.9 1174.3 1040.4C1177.6 1042.7 1180.6 1045.0 1182.3 1047.5C1183.8 1049.8 1184.7 1052.5 1184.5 1054.6C1184.3 1056.6 1183.1 1058.1 1181.4 1059.9C1179.4 1062.0 1175.9 1064.7 1172.5 1066.1C1169.1 1067.6 1166.3 1067.8 1161.0 1068.3C1154.4 1069.0 1142.4 1069.1 1134.4 1069.2C1126.8 1069.4 1119.3 1070.4 1114.0 1069.2C1109.3 1068.2 1105.9 1065.7 1103.3 1063.5C1100.9 1061.4 1098.8 1059.1 1098.4 1056.4Z"/>
<path d="M1102.4 1045.3C1105.7 1043.4 1107.6 1040.9 1112.2 1039.5C1117.7 1037.9 1125.9 1037.4 1134.4 1036.9C1143.5 1036.3 1155.1 1036.6 1165.4 1036.4"/>
<path d="M1108.6 1039.1C1110.7 1038.8 1112.8 1038.5 1114.8 1038.2"/>
<path d="M1135.2 1069.2C1136.1 1067.3 1136.2 1065.5 1137.9 1063.5C1140.0 1061.0 1143.4 1058.0 1147.7 1055.5C1152.4 1052.7 1159.5 1049.3 1165.4 1047.9C1171.1 1046.7 1176.6 1047.6 1182.3 1047.5"/>
<path d="M1227.5 985.9C1227.1 982.1 1228.7 977.7 1231.5 974.4C1234.6 970.7 1241.1 967.4 1246.2 964.9C1251.2 962.5 1256.5 961.2 1261.9 959.7C1267.4 958.2 1272.4 957.0 1278.7 956.0C1285.5 954.9 1294.8 952.9 1301.8 953.4C1308.4 953.9 1314.5 955.9 1319.6 958.6C1324.6 961.2 1329.5 965.3 1332.2 969.1C1334.7 972.7 1335.5 976.9 1335.8 980.6C1336.2 984.3 1336.2 987.4 1334.3 991.1C1332.0 995.5 1326.8 1002.0 1321.7 1005.3C1316.6 1008.6 1310.2 1009.6 1303.9 1011.0C1297.3 1012.6 1289.9 1014.0 1282.9 1014.2C1275.9 1014.4 1268.2 1013.4 1261.9 1012.1C1256.0 1010.9 1250.8 1009.4 1246.2 1006.9C1241.7 1004.4 1237.8 1001.0 1234.7 997.4C1231.6 994.0 1228.0 989.8 1227.5 985.9Z"/>
<path d="M1228.9 981.7C1234.7 980.3 1240.4 979.7 1246.2 977.5C1252.2 975.2 1258.6 971.7 1264.0 968.1C1269.4 964.5 1273.8 960.0 1278.7 956.0"/>
<path d="M1235.7 999.5C1241.0 998.8 1245.6 998.7 1251.5 997.4C1257.8 996.0 1265.4 993.1 1272.4 991.1C1279.4 989.2 1286.4 987.1 1293.4 985.9C1300.4 984.7 1307.4 984.4 1314.4 983.8C1321.3 983.2 1328.3 982.7 1335.3 982.2"/>
<path d="M1251.5 1009.0C1256.7 1007.4 1261.3 1005.4 1267.2 1004.2C1273.4 1002.9 1281.9 1001.7 1288.1 1001.6C1294.0 1001.5 1298.5 1002.5 1303.9 1003.2C1309.3 1003.9 1315.1 1004.9 1320.6 1005.8"/>
<path d="M1314.4 984.0C1317.8 985.0 1321.8 985.4 1324.8 986.9C1327.8 988.5 1329.7 991.1 1332.2 993.2"/>
<path d="M1228.4 1053.0C1228.1 1049.4 1230.5 1044.4 1232.6 1040.4C1234.7 1036.3 1236.5 1031.9 1241.0 1028.9C1245.9 1025.5 1254.9 1023.4 1261.9 1022.1C1268.9 1020.8 1275.9 1020.7 1282.9 1021.0C1289.9 1021.3 1297.6 1022.1 1303.9 1023.6C1309.8 1025.1 1314.7 1027.1 1319.6 1029.9C1324.5 1032.7 1330.5 1036.8 1333.2 1040.4C1335.6 1043.5 1336.5 1047.1 1336.4 1049.8C1336.3 1052.3 1335.4 1053.8 1333.2 1056.1C1330.5 1059.0 1324.5 1063.6 1319.6 1065.6C1314.7 1067.6 1310.6 1067.5 1303.9 1068.2C1296.1 1069.0 1284.2 1069.6 1274.5 1069.8C1265.0 1069.9 1253.2 1071.0 1246.2 1069.2C1240.3 1067.7 1236.6 1064.2 1233.6 1061.4C1230.9 1058.8 1228.7 1056.3 1228.4 1053.0Z"/>
<path d="M1239.4 1032.0C1241.7 1032.0 1242.3 1032.3 1246.2 1032.0C1251.7 1031.6 1261.9 1029.5 1272.4 1028.9C1284.2 1028.2 1300.4 1028.5 1314.4 1028.3"/>
<path d="M1233.6 1039.9C1236.1 1038.7 1238.7 1037.4 1241.0 1036.2C1243.2 1035.1 1245.2 1034.1 1247.3 1033.1"/>
<path d="M1275.0 1069.8C1276.3 1067.3 1276.2 1064.9 1278.7 1062.4C1281.7 1059.4 1287.7 1056.1 1293.4 1053.0C1299.5 1049.6 1307.4 1044.7 1314.4 1043.0C1321.0 1041.4 1327.6 1042.7 1334.3 1042.5"/>
<path d="M1389.3 969.2C1389.6 964.0 1391.4 958.7 1394.2 953.7C1397.2 948.4 1400.6 942.9 1407.1 938.2C1414.5 932.9 1429.3 926.6 1438.1 924.0C1445.7 921.8 1451.0 922.0 1457.4 922.1C1463.9 922.2 1470.4 922.9 1476.8 924.7C1483.3 926.5 1489.8 929.4 1496.1 933.1C1502.7 936.9 1511.0 942.7 1515.5 947.3C1519.4 951.2 1522.1 954.5 1522.6 958.9C1523.1 963.5 1521.3 970.1 1518.1 974.4C1514.7 978.8 1509.0 981.2 1502.6 984.7C1495.5 988.5 1485.7 992.9 1476.8 996.3C1467.7 999.8 1456.2 1003.6 1448.4 1005.3C1441.6 1006.8 1436.7 1006.9 1431.6 1006.9C1426.9 1006.8 1423.3 1006.7 1418.7 1005.3C1413.8 1003.8 1407.6 1001.0 1403.2 997.6C1398.8 994.1 1394.6 989.5 1392.3 984.7C1390.0 980.0 1389.0 974.3 1389.3 969.2Z"/>
<path d="M1407.1 938.2C1406.5 942.5 1405.0 946.2 1405.2 951.1C1405.3 956.5 1407.0 963.2 1408.4 969.2C1409.8 975.2 1410.5 981.2 1413.5 987.3C1416.8 993.7 1423.0 1000.3 1427.7 1006.9"/>
<path d="M1476.1 924.7C1477.2 930.1 1479.2 934.9 1479.4 940.8C1479.5 947.1 1478.5 954.6 1476.8 961.5C1475.1 968.4 1471.6 975.4 1469.0 982.1C1466.5 988.7 1463.9 995.0 1461.3 1001.5"/>
<path d="M1388.8 1041.5C1389.0 1038.0 1391.2 1034.4 1394.2 1031.1C1397.5 1027.5 1402.5 1023.4 1408.4 1020.8C1414.8 1018.1 1422.8 1016.8 1431.6 1015.6C1441.1 1014.4 1452.4 1012.9 1463.9 1013.7C1476.0 1014.5 1493.9 1017.4 1502.6 1020.8C1509.6 1023.6 1512.0 1027.2 1515.5 1031.1C1518.9 1035.0 1522.8 1039.7 1523.2 1044.0C1523.6 1048.3 1521.3 1053.3 1518.1 1056.9C1514.6 1060.8 1509.0 1063.9 1502.6 1066.0C1495.5 1068.2 1486.1 1068.7 1476.8 1069.2C1466.9 1069.7 1455.2 1069.9 1444.5 1068.5C1433.7 1067.2 1421.1 1063.8 1412.3 1060.8C1404.3 1058.1 1396.7 1055.3 1392.9 1051.8C1389.6 1048.7 1388.6 1044.9 1388.8 1041.5Z"/>
<path d="M1389.0 1042.7C1392.5 1040.2 1396.3 1037.4 1399.4 1035.0C1402.3 1032.7 1405.4 1031.0 1407.1 1028.5C1408.7 1026.2 1408.8 1023.4 1409.7 1020.8"/>
<path d="M1470.3 1014.4C1467.7 1016.9 1464.5 1018.6 1462.6 1022.1C1460.5 1025.8 1460.4 1031.3 1458.7 1036.3C1457.0 1041.6 1454.9 1047.7 1452.3 1053.1C1449.6 1058.5 1445.8 1063.4 1442.6 1068.5"/>
<path d="M1502.6 1020.8C1503.4 1025.5 1504.9 1030.1 1505.2 1035.0C1505.4 1040.0 1505.1 1045.3 1503.9 1050.5C1502.6 1055.8 1499.6 1061.2 1497.4 1066.6"/>
<path d="M1573.6 1017.4C1574.0 1014.0 1574.9 1009.0 1577.3 1005.8C1579.9 1002.4 1584.3 999.3 1589.0 997.5C1593.9 995.7 1600.4 994.8 1606.1 995.1C1611.9 995.5 1618.4 997.4 1623.3 999.6C1627.9 1001.7 1632.3 1004.7 1634.9 1007.8C1637.4 1010.7 1638.7 1014.2 1639.0 1017.4C1639.4 1020.6 1638.8 1023.9 1637.0 1027.0C1634.9 1030.4 1630.7 1034.3 1626.7 1036.6C1622.7 1038.9 1617.1 1039.9 1613.0 1040.7C1609.2 1041.5 1606.1 1041.5 1602.7 1041.4C1599.3 1041.3 1596.0 1041.1 1592.4 1040.0C1588.7 1038.9 1583.8 1037.0 1580.8 1034.6C1577.9 1032.2 1575.8 1028.6 1574.6 1025.6C1573.5 1022.9 1573.2 1020.5 1573.6 1017.4Z"/>
<path d="M1573.6 1016.0C1575.3 1013.8 1576.3 1011.1 1578.7 1009.2C1581.3 1007.2 1585.1 1005.5 1589.0 1004.4C1593.1 1003.3 1598.6 1002.5 1602.7 1002.7C1606.5 1002.8 1609.6 1003.7 1613.0 1005.1C1616.5 1006.5 1621.2 1008.5 1623.3 1011.2C1625.3 1013.8 1625.6 1017.8 1625.7 1020.8C1625.7 1023.7 1625.4 1026.7 1624.0 1029.1C1622.4 1031.5 1619.3 1033.5 1616.4 1035.2C1613.4 1037.0 1609.3 1038.4 1606.1 1039.4C1603.2 1040.3 1600.6 1040.5 1597.9 1041.1"/>
<path d="M1576.0 1022.9C1576.5 1021.5 1577.2 1019.8 1578.7 1018.8C1580.3 1017.7 1583.0 1016.9 1585.6 1017.1C1588.3 1017.3 1591.7 1018.6 1594.5 1020.2C1597.2 1021.7 1600.6 1024.2 1602.0 1026.3C1603.3 1028.3 1603.7 1030.6 1603.4 1032.5C1603.0 1034.4 1601.5 1036.6 1600.0 1038.0C1598.5 1039.3 1596.7 1040.5 1594.5 1040.7C1592.0 1040.9 1588.3 1039.8 1585.6 1038.7C1582.8 1037.5 1579.7 1035.9 1578.0 1033.9C1576.4 1032.0 1575.6 1028.9 1575.3 1027.0C1575.0 1025.4 1575.4 1024.2 1576.0 1022.9Z"/>
<path d="M1569.8 1057.9C1570.2 1056.4 1572.0 1054.9 1573.9 1053.8C1576.0 1052.5 1578.4 1051.4 1582.1 1050.7C1586.5 1049.8 1593.2 1049.4 1599.3 1049.3C1605.7 1049.2 1614.5 1049.2 1619.8 1050.3C1624.4 1051.3 1627.4 1053.5 1630.1 1055.1C1632.5 1056.5 1635.0 1057.8 1635.6 1059.2C1636.1 1060.5 1635.5 1062.2 1634.2 1063.3C1632.8 1064.7 1630.2 1065.9 1626.7 1066.8C1622.5 1067.8 1615.3 1068.5 1609.6 1068.8C1603.8 1069.2 1597.7 1069.2 1592.4 1068.8C1587.4 1068.5 1582.3 1068.0 1578.7 1066.8C1575.4 1065.6 1572.6 1063.6 1571.2 1062.0C1570.0 1060.6 1569.4 1059.2 1569.8 1057.9Z"/>
<path d="M1580.1 1051.4C1581.9 1052.6 1584.2 1053.6 1585.6 1055.1C1586.9 1056.7 1587.9 1059.3 1588.3 1060.6C1588.6 1061.6 1588.3 1062.0 1588.3 1062.7"/>
<path d="M1569.8 1058.5C1572.8 1059.7 1575.2 1061.2 1578.7 1062.0C1582.6 1062.8 1587.8 1063.2 1592.4 1063.3C1597.0 1063.5 1602.0 1063.4 1606.1 1062.7C1610.0 1062.0 1614.0 1060.7 1616.4 1059.2C1618.5 1057.9 1619.7 1056.0 1620.5 1054.4C1621.2 1053.0 1621.0 1051.7 1621.2 1050.3"/>
<path d="M1584.2 1063.0C1589.2 1063.6 1594.4 1064.5 1599.3 1064.7C1604.0 1064.9 1607.5 1065.0 1613.0 1064.4C1619.2 1063.7 1627.6 1061.9 1634.9 1060.6"/>
</svg>
<div class="t" style="left:75.58px;top:68.52px;font-size:62.00px;font-weight:bold;color:#000;transform:scaleX(1.0041)">livingstones</div>
<div class="t L" style="left:75.13px;top:189.89px;font-size:24.70px;font-weight:normal;color:#000;transform:scaleX(0.9857)">DIMENSIONS</div>
<div class="t L" style="left:79.43px;top:250.87px;font-size:20.00px;font-weight:normal;color:#000;transform:scaleX(0.8682)">LES ASSISES</div>
<div class="t L" style="left:78.20px;top:278.77px;font-size:20.00px;font-weight:normal;color:#000;transform:scaleX(0.8862)">SEATS</div>
<div class="t L" style="left:75.98px;top:960.43px;font-size:20.40px;font-weight:normal;color:#000;transform:scaleX(0.9154)">LES COUSSINS</div>
<div class="t L" style="left:77.01px;top:988.63px;font-size:20.40px;font-weight:normal;color:#000;transform:scaleX(0.9865)">CUSHIONS</div>
<div class="t" style="left:365.39px;top:411.58px;font-size:24.00px;font-weight:bold;color:#000;transform:scaleX(1.0050)">rosa</div>
<div class="t" style="left:625.20px;top:411.58px;font-size:24.00px;font-weight:bold;color:#000;transform:scaleX(0.9947)">carla</div>
<div class="t" style="left:358.88px;top:827.38px;font-size:24.00px;font-weight:bold;color:#000;transform:scaleX(1.0158)">monica</div>
<div class="t" style="left:845.60px;top:831.28px;font-size:24.00px;font-weight:bold;color:#000;transform:scaleX(0.9813)">enza</div>
<div class="t" style="left:1352.80px;top:828.78px;font-size:24.00px;font-weight:bold;color:#000;transform:scaleX(0.9972)">gilda</div>
<div class="t" style="left:302.56px;top:1084.48px;font-size:24.00px;font-weight:bold;color:#000;transform:scaleX(1.0370)">marc</div>
<div class="t" style="left:526.90px;top:1084.48px;font-size:24.00px;font-weight:bold;color:#000;transform:scaleX(1.0259)">edgar</div>
<div class="t" style="left:669.20px;top:1084.48px;font-size:24.00px;font-weight:bold;color:#000;transform:scaleX(1.0291)">christophe</div>
<div class="t" style="left:833.07px;top:1084.18px;font-size:24.00px;font-weight:bold;color:#000;transform:scaleX(1.0267)">pierre</div>
<div class="t" style="left:963.36px;top:1083.88px;font-size:24.00px;font-weight:bold;color:#000;transform:scaleX(1.0352)">hervé</div>
<div class="t" style="left:1102.70px;top:1083.88px;font-size:24.00px;font-weight:bold;color:#000;transform:scaleX(1.0183)">andré</div>
<div class="t" style="left:1235.32px;top:1083.88px;font-size:24.00px;font-weight:bold;color:#000;transform:scaleX(1.0208)">jacques</div>
<div class="t" style="left:1418.30px;top:1081.28px;font-size:24.00px;font-weight:bold;color:#000;transform:scaleX(1.0252)">xavier</div>
<div class="t" style="left:1572.60px;top:1081.28px;font-size:24.00px;font-weight:bold;color:#000;transform:scaleX(1.0135)">yann</div>
<div class="t L" style="left:365.41px;top:438.10px;font-size:21.50px;font-weight:normal;color:#000;transform:scaleX(0.9896)">95/64/35 cm</div>
<div class="t L" style="left:624.92px;top:438.10px;font-size:21.50px;font-weight:normal;color:#000;transform:scaleX(0.9836)">70/60/40 cm</div>
<div class="t L" style="left:360.12px;top:854.00px;font-size:21.50px;font-weight:normal;color:#000;transform:scaleX(0.9792)">105/78/40 cm</div>
<div class="t L" style="left:845.61px;top:858.20px;font-size:21.50px;font-weight:normal;color:#000;transform:scaleX(0.9877)">190/127/70 cm</div>
<div class="t L" style="left:1353.52px;top:856.20px;font-size:21.50px;font-weight:normal;color:#000;transform:scaleX(0.9841)">190/138/70 cm</div>
<div class="t L" style="left:304.32px;top:1111.80px;font-size:21.50px;font-weight:normal;color:#000;transform:scaleX(0.9784)">100/64/35 cm</div>
<div class="t L" style="left:527.01px;top:1111.80px;font-size:21.50px;font-weight:normal;color:#000;transform:scaleX(0.9870)">28/17/15 cm</div>
<div class="t L" style="left:669.20px;top:1111.80px;font-size:21.50px;font-weight:normal;color:#000;transform:scaleX(0.9794)">50/27/19 cm</div>
<div class="t L" style="left:834.10px;top:1111.80px;font-size:21.50px;font-weight:normal;color:#000;transform:scaleX(0.9786)">30/27/19 cm</div>
<div class="t L" style="left:964.40px;top:1111.00px;font-size:21.50px;font-weight:normal;color:#000;transform:scaleX(0.9752)">41/36/23 cm</div>
<div class="t L" style="left:1103.40px;top:1111.00px;font-size:21.50px;font-weight:normal;color:#000;transform:scaleX(0.9760)">34/24/20 cm</div>
<div class="t L" style="left:1235.50px;top:1111.00px;font-size:21.50px;font-weight:normal;color:#000;transform:scaleX(0.9794)">44/30/25 cm</div>
<div class="t L" style="left:1419.00px;top:1108.20px;font-size:21.50px;font-weight:normal;color:#000;transform:scaleX(0.9803)">50/40/26 cm</div>
<div class="t L" style="left:1572.02px;top:1108.20px;font-size:21.50px;font-weight:normal;color:#000;transform:scaleX(0.9836)">29/26/10 cm</div>
<div class="t L" style="left:950.34px;top:1170.35px;font-size:20.50px;font-weight:normal;color:#000;transform:scaleX(0.9640)">Nos produits étant faits main, les poids et dimensions peuvent légèrement varier.</div>
<div class="t L" style="left:950.30px;top:1190.25px;font-size:20.50px;font-weight:normal;color:#000;transform:scaleX(0.9566)">Our products are handmade so dimensions and weights may vary slightly.</div>
</body></html>
